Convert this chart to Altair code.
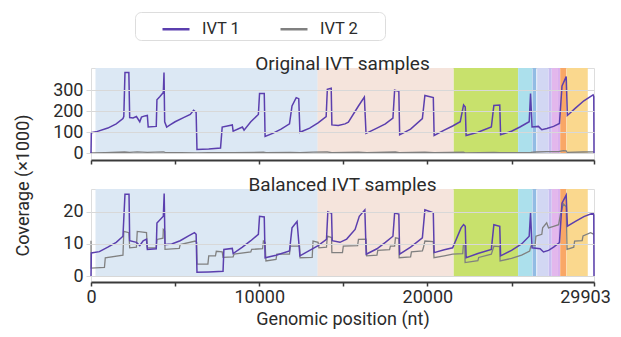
import altair as alt
import pandas as pd

# ---------------- data ----------------
genes = ["ORF1a", "ORF1b", "S", "ORF3a", "E", "M", "ORF6", "ORF7a", "ORF7b", "ORF8", "N"]
gene_start = [266, 13468, 21563, 25393, 26245, 26523, 27202, 27394, 27756, 27894, 28274]
gene_end = [13483, 21555, 25384, 26220, 26472, 27191, 27387, 27759, 27887, 28259, 29533]
gene_color = ["#dce8f4", "#f5e4dc", "#c8e16c", "#ace0ec", "#92bce4", "#d2d7f3",
              "#c7bdf0", "#e3b7ec", "#dab0ee", "#f9a766", "#fad88e"]

# Original IVT samples (coverage, x1000)
orig_ivt1_pos = [0, 20, 300, 1000, 1500, 1900, 1950, 2020, 2250, 2300, 2500, 2700, 2900, 3000, 3200,
                 3350, 3400, 3880, 3920, 4100, 4300, 4340, 4380, 4500, 4700, 5000, 5500, 5900, 6100,
                 6250, 6300, 7000, 7700, 7800, 8400, 8450, 9000, 9100, 9500, 9950, 10020, 10300, 10350,
                 10800, 11300, 11800, 11950, 12200, 12350, 12420, 13000, 13500, 13980, 14050, 14280,
                 14320, 14700, 15100, 15300, 15900, 16250, 16350, 17000, 17500, 17950, 18050, 18300,
                 18350, 19000, 19700, 19850, 20350, 20400, 21000, 21500, 21950, 22050, 22150, 22250,
                 22300, 23000, 23800, 23950, 24300, 24350, 25000, 25500, 26050, 26130, 26220, 26600,
                 26800, 27100, 27500, 27850, 28000, 28250, 28320, 28800, 29300, 29850, 29890, 29903]
orig_ivt1_cov = [0, 98, 102, 120, 140, 165, 175, 385, 385, 170, 168, 175, 150, 172, 178,
                 180, 125, 128, 255, 270, 290, 385, 150, 125, 135, 150, 170, 185, 205,
                 195, 18, 20, 25, 125, 135, 105, 125, 110, 150, 185, 285, 285, 80,
                 95, 115, 140, 225, 265, 260, 100, 120, 145, 175, 305, 310,
                 135, 132, 140, 148, 225, 268, 95, 120, 140, 168, 300, 295,
                 88, 115, 165, 275, 265, 85, 110, 130, 150, 190, 230, 220,
                 85, 100, 125, 228, 230, 88, 105, 125, 150, 285, 125, 128,
                 112, 118, 128, 142, 320, 365, 180, 215, 250, 278, 270, 0]

orig_ivt2_pos = [0, 10, 850, 2000, 2300, 2750, 3350, 4300, 4400, 6300, 7000, 8500, 10250, 10400,
                 11850, 12430, 13200, 14050, 14320, 15900, 16390, 18100, 18320, 19850, 20390,
                 22140, 22240, 23950, 24320, 26150, 26450, 27090, 27800, 28080, 28250, 28300,
                 29250, 29903]
orig_ivt2_cov = [6, 1.5, 3, 6, 4, 7, 4.5, 7, 4, 2, 3, 3.5, 5, 2.5,
                 4.5, 3, 5.5, 6, 3.5, 5.5, 3, 6, 3, 5.5, 3,
                 5, 2, 4.5, 2.5, 4.5, 6, 8, 8, 13, 12, 4,
                 6, 6.5]

# Balanced IVT samples (coverage, x1000)
bal_ivt1_pos = [0, 20, 500, 1000, 1500, 1900, 2020, 2260, 2300, 2700, 2900, 3100, 3300, 3350, 3880,
                3920, 4300, 4350, 4400, 4800, 5300, 5800, 6150, 6250, 6300, 7000, 7850, 7900, 8400,
                8450, 9000, 9500, 9950, 10020, 10300, 10350, 11000, 11800, 11950, 12250, 12420,
                13000, 13500, 14000, 14080, 14300, 14340, 14800, 15200, 15700, 15950, 16280, 16360,
                17000, 17500, 17950, 18050, 18300, 18350, 19000, 19700, 19850, 20350, 20400, 21000,
                21500, 22000, 22150, 22250, 22300, 23000, 23800, 23950, 24300, 24350, 25000, 25600,
                26050, 26130, 26220, 26700, 26900, 27200, 27500, 27850, 28000, 28250, 28320, 28800,
                29300, 29850, 29890, 29903]
bal_ivt1_cov = [0, 7.2, 7.6, 9, 10.5, 12.4, 25.5, 25.5, 11, 10.5, 9.5, 11, 11.5, 8.3, 8.5,
                16.5, 18.6, 25.7, 9.8, 10, 11, 12.5, 13.5, 13, 1.2, 1.3, 1.5, 8.3, 8.6,
                7, 9, 11, 13, 18.6, 18.4, 5.7, 6.5, 7.8, 15, 17, 6.3,
                8, 9.5, 11.4, 20, 19.5, 11, 10.5, 11.5, 14.5, 18.6, 20.6, 6.8,
                8.5, 10.5, 12.4, 19.6, 19.3, 6.8, 9, 11.9, 20.6, 19.7, 7.3, 8.2,
                8.8, 15, 16, 15.5, 5.7, 7, 8.3, 16, 15.5, 6.3, 8, 10,
                12.4, 19.6, 8.8, 8.5, 7.5, 8, 9, 10.4, 22.7, 25.2, 15.5, 17,
                18.5, 19.6, 19, 0]

bal_ivt2_pos = [0, 10, 800, 850, 1900, 1950, 2250, 2300, 2700, 2750, 3300, 3350, 3880, 3920, 4280,
                4300, 4380, 4400, 5250, 5300, 6200, 6280, 6300, 6950, 7000, 7400, 7450, 7800, 7850,
                8450, 8500, 9500, 9550, 10200, 10250, 10350, 10400, 11000, 11050, 11800, 11850,
                12400, 12430, 13150, 13200, 13500, 13550, 14000, 14050, 14300, 14320, 14950, 15000,
                15850, 15900, 16350, 16390, 17000, 17050, 17750, 17800, 18050, 18100, 18300, 18320,
                19000, 19050, 19700, 19760, 19850, 20350, 20390, 21000, 21500, 22100, 22140, 22220,
                22240, 23000, 23050, 23800, 23950, 24300, 24320, 25000, 25600, 26080, 26150, 26400,
                26450, 26800, 26850, 27090, 27200, 27500, 27800, 27900, 28080, 28250, 28300, 28700,
                28750, 29200, 29250, 29700, 29903]
bal_ivt2_cov = [11, 2.5, 2.7, 5.7, 6.5, 13.9, 13.5, 8.8, 9, 13.9, 13.5, 8.8, 8.8, 11.4, 11.8,
                14.5, 14, 8.3, 8.6, 9.8, 10.9, 10.5, 3.7, 3.7, 6.3, 6.3, 7.7, 7.5, 5.8,
                6, 6.8, 7.5, 8.3, 8.5, 10.9, 10.5, 4.7, 5.2, 6.8, 6.8, 9.3,
                9.3, 5.7, 5.8, 10.9, 10.5, 8.8, 9, 12.4, 12, 7.3, 7.3, 9.3,
                9.5, 11.4, 11.5, 6.3, 6.5, 8, 8.2, 9.3, 9.3, 11.9, 11.7, 5.7,
                6, 7.5, 7.8, 8.8, 10.9, 10.7, 5.7, 6.3, 6.8, 7, 9.8, 9.6,
                4.2, 4.8, 5.8, 6.8, 9.3, 9.2, 4.7, 5.5, 6.5, 7.8, 9.3, 9.5,
                12.4, 13, 15, 16.6, 15, 15.5, 16, 19, 22.5, 21.6, 8.3, 9,
                10.9, 11, 12.5, 13.5, 13]

x_ticks = [0, 5000, 10000, 15000, 20000, 25000, 29903]
top_y_ticks = [0, 100, 200, 300]
bot_y_ticks = [0, 10, 20]
series = ["IVT 1", "IVT 2"]
series_colors = ["#5b3fae", "#808080"]

# ---------------- tables ----------------
genes_df = pd.DataFrame({"gene": genes, "start": gene_start, "end": gene_end, "color": gene_color})


def series_df(pos, cov, name):
    return pd.DataFrame({"pos": pos, "cov": cov, "sample": name})


orig_df = pd.concat([series_df(orig_ivt1_pos, orig_ivt1_cov, "IVT 1"),
                     series_df(orig_ivt2_pos, orig_ivt2_cov, "IVT 2")])
bal_df = pd.concat([series_df(bal_ivt1_pos, bal_ivt1_cov, "IVT 1"),
                    series_df(bal_ivt2_pos, bal_ivt2_cov, "IVT 2")])

FONT = "Roboto"
TXT = "#2b2b2b"
W = 503

color_enc = alt.Color("sample:N", scale=alt.Scale(domain=series, range=series_colors),
                      legend=alt.Legend(title="\u00a0", titleOrient="left", titlePadding=24,
                                        orient="none", legendX=44, legendY=-56,
                                        direction="horizontal", symbolType="stroke",
                                        symbolSize=729, symbolStrokeWidth=2.5,
                                        labelFontSize=16.5, labelFont=FONT, labelColor=TXT,
                                        labelOffset=11, columnPadding=34,
                                        labelExpr="datum.label == 'IVT 2' ? datum.label + '\u2800\u2800' : datum.label",
                                        strokeColor="#dddddd", cornerRadius=6, padding=2,
                                        fillColor="white"))

label_cond = "datum.value % 10000 == 0 || datum.value == 29903"


def x_axis(show_labels):
    kw = dict(values=x_ticks, format="d", grid=False, domainColor="#3a3a3a", domainWidth=2,
              tickColor="#3a3a3a", tickWidth=1.5, tickSize=4, labelFont=FONT, labelFontSize=18,
              labelColor=TXT, labelPadding=2, labelFlush=False, titleFont=FONT, titleFontSize=18,
              titleFontWeight="normal", titleColor=TXT, titlePadding=4)
    if show_labels:
        kw.update(labels=True, labelExpr=f"{label_cond} ? datum.label : ''",
                  labelOffset={"condition": {"test": "datum.value == 29903", "value": -9}, "value": 0},
                  title="Genomic position (nt)")
    else:
        kw.update(labels=False, title=None)
    return alt.Axis(**kw)


def y_axis(ticks, title=None):
    kw = dict(values=ticks, grid=True, gridColor="#d8d8d8", gridWidth=1, domain=False,
              ticks=True, tickColor="#d8d8d8", tickSize=5, labelFont=FONT, labelFontSize=18,
              labelColor=TXT, labelPadding=3, zindex=1)
    if title:
        kw.update(title=title, titleFont=FONT, titleFontSize=18, titleFontWeight="normal",
                  titleColor=TXT, titleX=-59, titleY=117, titleAngle=-90, titleAlign="center",
                  titleBaseline="bottom")
    else:
        kw.update(title=None)
    return alt.Axis(**kw)


def panel(df, ydom, ticks, title, show_x, h, ytitle=None):
    xs = alt.Scale(domain=[0, 29903], nice=False, zero=False)
    ys = alt.Scale(domain=ydom, nice=False, zero=False)
    yax = y_axis(ticks, ytitle)
    xax = x_axis(show_x)
    bg = alt.Chart(genes_df).mark_rect().encode(
        x=alt.X("start:Q", scale=xs, axis=xax),
        x2="end:Q",
        y=alt.Y(datum=0, type="quantitative", scale=ys, axis=yax),
        y2=alt.value(0),
        color=alt.Color("color:N", scale=None),
    )
    gray = alt.Chart(df).transform_filter(alt.datum.sample == "IVT 2").mark_line(
        strokeWidth=1.3, interpolate="linear").encode(
        x=alt.X("pos:Q", scale=xs, axis=xax),
        y=alt.Y("cov:Q", scale=ys, axis=yax),
        color=color_enc,
        order="pos:Q",
    )
    purple = alt.Chart(df).transform_filter(alt.datum.sample == "IVT 1").mark_line(
        strokeWidth=1.5, interpolate="linear").encode(
        x=alt.X("pos:Q", scale=xs, axis=xax),
        y=alt.Y("cov:Q", scale=ys, axis=yax),
        color=color_enc,
        order="pos:Q",
    )
    return alt.layer(bg, gray, purple).properties(
        width=W, height=h,
        title=alt.TitleParams(title, offset=-6, fontSize=19, font=FONT, fontWeight="normal",
                              color=TXT, anchor="middle"),
    )


top = panel(orig_df, [-32, 406], top_y_ticks, "Original IVT samples", False, 92,
            ytitle="Coverage (\u00d71000)")
bottom = panel(bal_df, [-1.85, 27.1], bot_y_ticks, "Balanced IVT samples", True, 93)

chart = alt.vconcat(top, bottom, spacing=29, bounds="flush").configure_view(stroke=None).configure(
    background="white").properties(padding={"left": 5, "top": 3, "right": 0, "bottom": 0})

chart.save("out.html", embed_options={"renderer": "svg", "actions": False})
